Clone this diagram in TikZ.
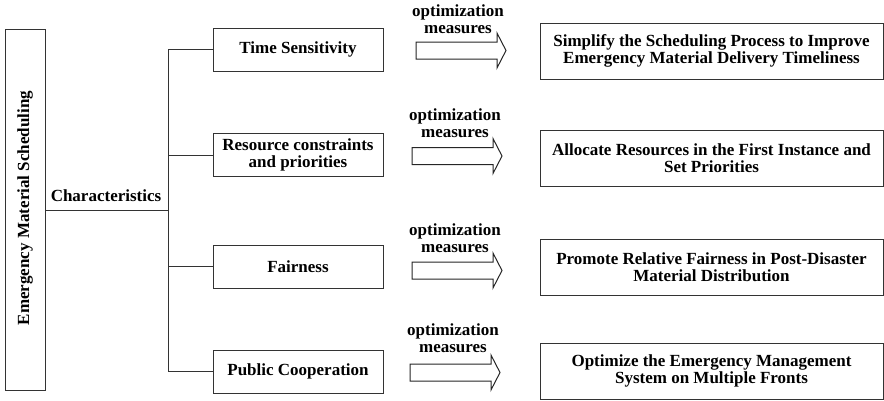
\documentclass[tikz,border=0pt]{standalone}
\usepackage{fontspec}
\setmainfont{Liberation Serif}
\begin{document}
\begin{tikzpicture}[x=1pt,y=-1pt,
  lbl/.style={font=\fontsize{17}{17}\selectfont\bfseries, align=center, inner sep=0pt},
  box/.style={draw=black!80, line width=1pt, lbl},
  midbox/.style={box, minimum width=170pt, minimum height=43pt},
  resbox/.style={box, minimum width=343pt, minimum height=56pt},
  conn/.style={draw=black!80, line width=1pt},
  barrow/.style={draw=black!85, line width=1pt, fill=white}
]
\useasboundingbox (0,0) rectangle (884,400);

% left box
\node[draw=black!80, line width=1pt, minimum width=40pt, minimum height=361pt, inner sep=0pt] (ems) at (25,209.5) {};
\node[lbl, rotate=90] (emst) at (25,208) {Emergency Material Scheduling};

% trunk
\coordinate (trunk) at (168,210);
\coordinate (ttop) at (168,49.5);
\coordinate (tbot) at (168,371.5);
\draw[conn] (ems.east |- trunk) -- (trunk);
\node[lbl] (chr) at (106,196) {Characteristics};

% middle boxes
\node[midbox] (m1) at (298,49.5) {Time Sensitivity};
\node[midbox] (m2) at (298,155) {Resource constraints\\and priorities};
\node[midbox] (m3) at (298,266.5) {Fairness};
\node[midbox] (m4) at (298,371.5) {Public Cooperation};

\draw[conn] (m1.west) -| (tbot) -- (m4.west);
\draw[conn] (m2.west) -- (m2.west -| trunk);
\draw[conn] (m3.west) -- (m3.west -| trunk);

% result boxes
\node[resbox] (r1) at (711.5,51) {Simplify the Scheduling Process to Improve\\Emergency Material Delivery Timeliness};
\node[resbox] (r2) at (711.5,158) {Allocate Resources in the First Instance and\\Set Priorities};
\node[resbox] (r3) at (711.5,267) {Promote Relative Fairness in Post-Disaster\\Material Distribution};
\node[resbox] (r4) at (711.5,371) {Optimize the Emergency Management\\System on Multiple Fronts};

% block arrows
\newcommand\blockarr[3]{%
  \draw[barrow] (#1,#3-8.5) -- (#2-9,#3-8.5) -- (#2-9,#3-17.5) -- (#2,#3)
    -- (#2-9,#3+17.5) -- (#2-9,#3+8.5) -- (#1,#3+8.5) -- cycle;}
\blockarr{416}{506}{50.5}
\blockarr{412}{502}{156}
\blockarr{412}{502}{270.5}
\blockarr{410}{500}{372.5}

% labels
\node[lbl] (o1) at (458,19) {optimization\\measures};
\node[lbl] (o2) at (455,123.5) {optimization\\measures};
\node[lbl] (o3) at (455,238.5) {optimization\\measures};
\node[lbl] (o4) at (453,338.5) {optimization\\measures};
\end{tikzpicture}
\end{document}
